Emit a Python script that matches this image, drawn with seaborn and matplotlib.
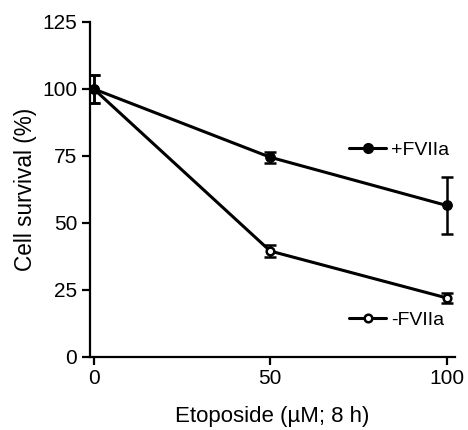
import numpy as np
import pandas as pd
import matplotlib
matplotlib.use("Agg")
import matplotlib.pyplot as plt
import seaborn as sns
from matplotlib.lines import Line2D

# Data
etoposide = [0, 50, 100]
plus_fviia = [100.0, 74.5, 56.5]
plus_err = [5.3, 2.1, 10.5]
minus_fviia = [100.0, 39.5, 22.0]
minus_err = [5.3, 2.2, 2.0]
series_labels = ["+FVIIa", "-FVIIa"]
y_ticks = [0, 25, 50, 75, 100, 125]
x_ticks = [0, 50, 100]

sns.set_style("ticks")
plt.rcParams['font.family'] = ['Liberation Sans', 'DejaVu Sans']
plt.rcParams['text.color'] = 'black'
plt.rcParams['axes.labelcolor'] = 'black'
plt.rcParams['xtick.color'] = 'black'
plt.rcParams['ytick.color'] = 'black'

df = pd.DataFrame({
    "x": etoposide * 2,
    "y": plus_fviia + minus_fviia,
    "s": [series_labels[0]] * 3 + [series_labels[1]] * 3,
})

fig = plt.figure(figsize=(4.68, 4.30), dpi=100)
ax = fig.add_axes([0.192, 0.170, 0.780, 0.779])

sns.lineplot(data=df[df.s == series_labels[1]], x="x", y="y", ax=ax, color="black",
             lw=2.2, marker="o", markersize=5.5, markerfacecolor="white",
             markeredgecolor="black", markeredgewidth=1.8, legend=False, zorder=3)
sns.lineplot(data=df[df.s == series_labels[0]], x="x", y="y", ax=ax, color="black",
             lw=2.2, marker="o", markersize=7, markerfacecolor="black",
             markeredgecolor="black", legend=False, zorder=4)

ax.errorbar(etoposide, plus_fviia, yerr=plus_err, fmt="none", ecolor="black",
            elinewidth=1.8, capsize=4.5, capthick=1.8, zorder=2)
ax.errorbar(etoposide, minus_fviia, yerr=minus_err, fmt="none", ecolor="black",
            elinewidth=1.8, capsize=4.5, capthick=1.8, zorder=2)

ax.set_xlim(-1.1, 102.3)
ax.set_ylim(0, 125)
ax.set_xticks(x_ticks)
ax.set_yticks(y_ticks)
ax.spines["top"].set_visible(False)
ax.spines["right"].set_visible(False)
for sp in ["left", "bottom"]:
    ax.spines[sp].set_linewidth(1.6)
    ax.spines[sp].set_color("black")
ax.tick_params(axis="both", which="major", length=6, width=1.6, colors="black",
               labelsize=15, pad=3)
ax.set_xlabel("Etoposide (µM; 8 h)", fontsize=16, labelpad=13)
ax.set_ylabel("Cell survival (%)", fontsize=16.3, labelpad=4)

h1 = Line2D([], [], color="black", lw=2.2, marker="o", markersize=7,
            markerfacecolor="black", markeredgecolor="black")
h2 = Line2D([], [], color="black", lw=2.2, marker="o", markersize=5.5,
            markerfacecolor="white", markeredgecolor="black", markeredgewidth=1.8)
leg1 = ax.legend([h1], [series_labels[0]], loc="center left",
                 bbox_to_anchor=(0.71, 0.618), frameon=False, fontsize=14,
                 handlelength=1.9, handletextpad=0.25, borderpad=0, borderaxespad=0)
ax.add_artist(leg1)
ax.legend([h2], [series_labels[1]], loc="center left",
          bbox_to_anchor=(0.71, 0.11), frameon=False, fontsize=14,
          handlelength=1.9, handletextpad=0.25, borderpad=0, borderaxespad=0)

fig.savefig("out.png", dpi=100)
